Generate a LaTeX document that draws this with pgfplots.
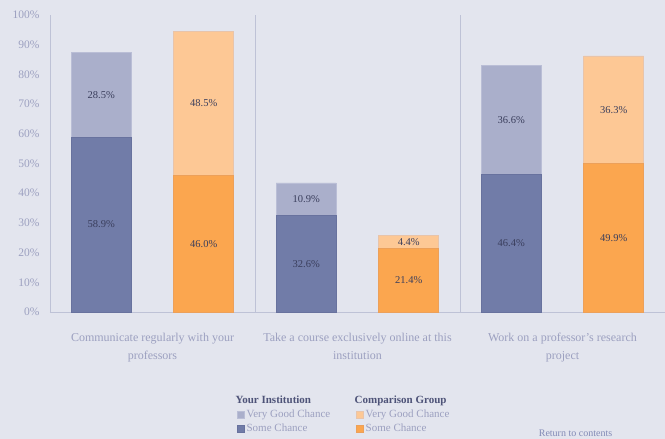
\documentclass[border=0pt]{standalone}
\usepackage{pgfplots}
\pgfplotsset{compat=1.18}
\usepackage{fontspec}
\setmainfont{Liberation Serif}
\definecolor{bg}{RGB}{227,229,238}
\definecolor{instD}{RGB}{113,124,168}
\definecolor{instDd}{RGB}{104,114,158}
\definecolor{instL}{RGB}{170,175,203}
\definecolor{instLd}{RGB}{186,190,214}
\definecolor{compD}{RGB}{251,166,79}
\definecolor{compDd}{RGB}{236,160,90}
\definecolor{compL}{RGB}{253,200,149}
\definecolor{compLd}{RGB}{232,196,170}
\definecolor{axisc}{RGB}{190,194,214}
\definecolor{ticktext}{RGB}{156,160,192}
\definecolor{labtext}{RGB}{58,62,92}
\definecolor{leghead}{RGB}{78,83,120}
\definecolor{linkc}{RGB}{130,138,182}
\pgfplotsset{sqlegend/.style={legend image code/.code={\draw[##1] (0pt,-3.5pt) rectangle (7pt,3.5pt);}}}
\begin{document}
\begin{tikzpicture}
\useasboundingbox (0pt,0pt) rectangle (665pt,439pt);
\fill[bg] (0pt,0pt) rectangle (665pt,439pt);
\begin{axis}[
  at={(50pt,127pt)}, anchor=south west,
  scale only axis, width=615pt, height=297pt,
  xmin=-0.5, xmax=2.5, ymin=0, ymax=100,
  axis x line*=bottom, axis y line*=left,
  axis line style={draw=axisc, line width=0.8pt, -},
  major tick length=0pt,
  ytick={0,10,...,100},
  yticklabel={\pgfmathprintnumber[assume math mode=true]{\tick}\%},
  yticklabel style={font=\fontsize{11.5}{13}\selectfont, text=ticktext, xshift=-7pt},
  xtick={0,1,2},
  xticklabels={Communicate regularly with your\\professors, Take a course exclusively online at this\\institution, Work on a professor's research\\project},
  xticklabel style={font=\fontsize{12}{17.5}\selectfont, text=ticktext, align=center, yshift=-18pt},
  extra x ticks={0.5,1.5},
  extra x tick labels={},
  extra x tick style={grid=major, major grid style={draw=axisc, line width=0.8pt}},
  legend columns=2,
  legend cell align=left,
  legend style={at={(0.3041,-0.278)}, anchor=north west, draw=none, fill=none,
    inner sep=0pt, font=\fontsize{11}{13}\selectfont, text=ticktext,
    nodes={inner ysep=0.8pt, inner xsep=2pt}, row sep=3.4pt,
    /tikz/every even column/.append style={column sep=24pt}},
  clip=false,
]
% Your Institution: totals (Very Good Chance on top of Some Chance)
\addplot[ybar, bar width=60pt, bar shift=0pt, fill=instL, draw=instLd, line width=0.6pt, forget plot]
  coordinates {(-0.25,87.4) (0.75,43.5) (1.75,83.0)};
\addplot[ybar, bar width=60pt, bar shift=0pt, fill=instD, draw=instDd, line width=0.6pt, forget plot]
  coordinates {(-0.25,58.9) (0.75,32.6) (1.75,46.4)};
% Comparison Group
\addplot[ybar, bar width=60pt, bar shift=0pt, fill=compL, draw=compLd, line width=0.6pt, forget plot]
  coordinates {(0.25,94.5) (1.25,25.8) (2.25,86.2)};
\addplot[ybar, bar width=60pt, bar shift=0pt, fill=compD, draw=compDd, line width=0.6pt, forget plot]
  coordinates {(0.25,46.0) (1.25,21.4) (2.25,49.9)};
% segment labels
\addplot[draw=none, mark=none, forget plot, nodes near coords, point meta=explicit symbolic,
  nodes near coords align=center,
  every node near coord/.append style={font=\fontsize{10.5}{12}\selectfont, text=labtext, anchor=center}]
  coordinates {
  (-0.25,73.15) [28.5\%] (-0.25,29.45) [58.9\%]
  (0.25,70.25) [48.5\%] (0.25,23.0) [46.0\%]
  (0.75,38.05) [10.9\%] (0.75,16.3) [32.6\%]
  (1.25,23.6) [4.4\%] (1.25,10.7) [21.4\%]
  (1.75,64.7) [36.6\%] (1.75,23.2) [46.4\%]
  (2.25,68.05) [36.3\%] (2.25,24.95) [49.9\%]
  };
\addlegendimage{empty legend}
\addlegendentry{\makebox[0pt][l]{\hspace{-11pt}\textcolor{leghead}{\bfseries Your Institution}}}
\addlegendimage{empty legend}
\addlegendentry{\makebox[0pt][l]{\hspace{-11pt}\textcolor{leghead}{\bfseries Comparison Group}}}
\addlegendimage{sqlegend, fill=instL, draw=instLd}
\addlegendentry{Very Good Chance}
\addlegendimage{sqlegend, fill=compL, draw=compLd}
\addlegendentry{Very Good Chance}
\addlegendimage{sqlegend, fill=instD, draw=instDd}
\addlegendentry{Some Chance}
\addlegendimage{sqlegend, fill=compD, draw=compDd}
\addlegendentry{Some Chance}
\end{axis}
\node[anchor=base, font=\fontsize{10}{12}\selectfont, text=linkc] at (575.5pt,2pt) {Return to contents};
\end{tikzpicture}
\end{document}
